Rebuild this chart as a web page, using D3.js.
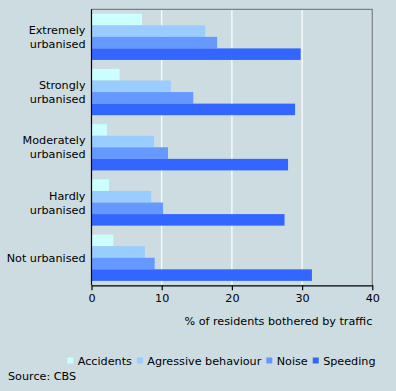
<!DOCTYPE html>
<html><head><meta charset="utf-8">
<script src="https://cdn.jsdelivr.net/npm/d3@7"></script>
<style>
html,body{margin:0;padding:0;background:#cddce1;}
text{font-family:"DejaVu Sans",Verdana,sans-serif;font-size:11.2px;fill:#000;}
</style></head>
<body>
<svg id="c" width="396" height="391"></svg>
<script>
const categories = [["Extremely","urbanised"],["Strongly","urbanised"],["Moderately","urbanised"],["Hardly","urbanised"],["Not urbanised"]];
const seriesNames = ["Accidents","Agressive behaviour","Noise","Speeding"];
const seriesColors = ["#ccffff","#99ccff","#6699ff","#3366ff"];
const accidents = [7.2, 4.0, 2.2, 2.5, 3.1];
const aggressive = [16.2, 11.3, 8.9, 8.5, 7.6];
const noise = [17.9, 14.5, 10.9, 10.2, 9.0];
const speeding = [29.8, 29.0, 28.0, 27.5, 31.4];
const xTicks = [0,10,20,30,40];
const series = [accidents, aggressive, noise, speeding];

const svg = d3.select("#c");
const L = 91.5, R = 372.3, T = 9.3, B = 285.3;
const x = d3.scaleLinear().domain([0,40]).range([L,R]);
const y = d3.scaleBand().domain(d3.range(categories.length)).range([T,B]).paddingInner(0.163).paddingOuter(0.08);
const y1 = d3.scaleBand().domain(d3.range(series.length)).range([0,y.bandwidth()]);

svg.append("g").selectAll("line").data(xTicks.slice(1,-1)).join("line")
  .attr("x1",d=>x(d)).attr("x2",d=>x(d)).attr("y1",T).attr("y2",B)
  .attr("stroke","#fff").attr("stroke-width",1.2);

const g = svg.append("g");
series.forEach((s,si)=>{
  g.selectAll(null).data(s).join("rect")
    .attr("x",x(0)).attr("y",(d,i)=>y(i)+y1(si))
    .attr("width",d=>x(d)-x(0)).attr("height",y1.bandwidth())
    .attr("fill",seriesColors[si]);
});

svg.append("path").attr("d",`M${L},${T}H${R}V${B}`).attr("fill","none").attr("stroke","#808080").attr("stroke-width",1.2);
svg.append("line").attr("x1",L).attr("x2",L).attr("y1",T).attr("y2",B).attr("stroke","#000").attr("stroke-width",1.2);
const ax = svg.append("g").attr("transform",`translate(0,${B})`)
  .call(d3.axisBottom(x).tickValues(xTicks).tickSize(5).tickSizeOuter(0).tickPadding(4));
ax.select(".domain").attr("stroke","#000").attr("stroke-width",1.2);
ax.selectAll(".tick line").attr("stroke","#000").attr("stroke-width",1.2);
ax.selectAll("text").style("font-family","DejaVu Sans").style("font-size","11.2px");

svg.append("text").attr("x",R).attr("y",325).attr("text-anchor","end").text("% of residents bothered by traffic");

categories.forEach((lines,i)=>{
  const cy = y(i)+y.bandwidth()/2;
  const n = lines.length;
  lines.forEach((ln,j)=>{
    svg.append("text").attr("x",85.5).attr("y",cy + (j-(n-1)/2)*14 + 4)
      .attr("text-anchor","end").text(ln);
  });
});

let lx = 67.3;
const lg = svg.append("g");
seriesNames.forEach((nm,i)=>{
  lg.append("rect").attr("x",lx).attr("y",357.5).attr("width",6).attr("height",6).attr("fill",seriesColors[i]);
  const t = lg.append("text").attr("x",lx+10.4).attr("y",365).text(nm);
  lx += 10.4 + t.node().getComputedTextLength() + 5;
});
svg.append("text").attr("x",8).attr("y",380).text("Source: CBS");
</script>
</body></html>
